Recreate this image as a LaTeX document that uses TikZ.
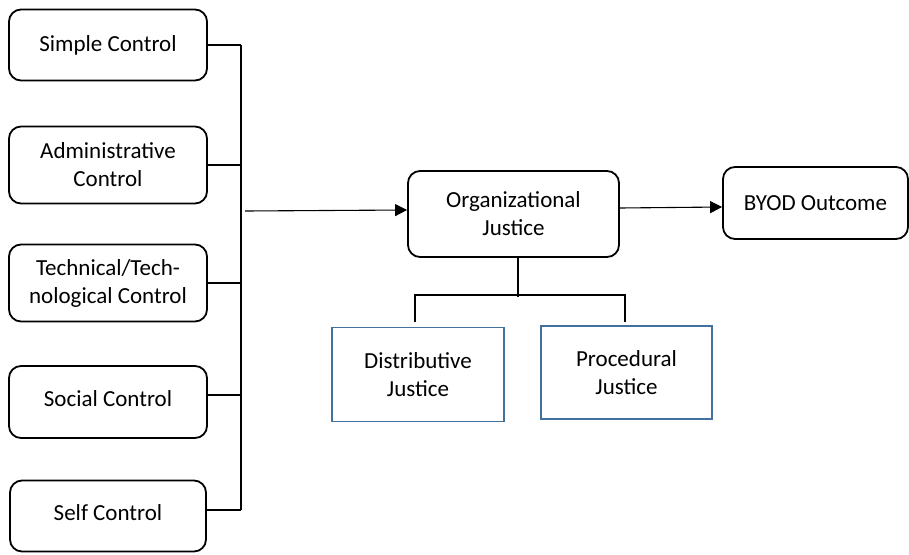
\documentclass[tikz,border=0pt]{standalone}
\usepackage{fontspec}
\setmainfont{Carlito}
\usepackage{xcolor}
\usepackage{tikz}
\usetikzlibrary{arrows.meta}
\definecolor{justblue}{RGB}{65,113,156}
\tikzstyle{control} = [rectangle, rounded corners=12pt, minimum width=198pt, minimum height=74pt, align=center, draw=black, line width=1.8pt, font=\fontsize{23}{28}\selectfont]
\tikzstyle{dimension} = [rectangle, minimum width=172pt, minimum height=94pt, align=center, draw=justblue, line width=1.8pt, font=\fontsize{23}{28}\selectfont]
\tikzstyle{arrow} = [line width=1.1pt, -{Triangle[length=12pt,width=12pt]}]
\tikzstyle{link} = [line width=1.1pt]

\begin{document}
\begin{tikzpicture}[x=1pt, y=-1pt]
        \useasboundingbox (0,0) rectangle (909,554);
        \node (simple) [control, minimum height=71pt] at (108,45) {Simple Control};
        \node (admin) [control, minimum height=77pt] at (108,165) {Administrative\\Control};
        \node (tech) [control, minimum height=77pt] at (108,283) {Technical/Tech-\\nological Control};
        \node (social) [control, minimum height=72pt] at (108,402) {\raisebox{7pt}{Social Control}};
        \node (self) [control, minimum height=71pt, minimum width=196pt] at (108,516) {\raisebox{6pt}{Self Control}};
        \node (orgjust) [control, minimum width=211pt, minimum height=86pt] at (513.5,214) {Organizational\\Justice};
        \node (byod) [control, minimum width=185pt, minimum height=72pt] at (815.5,203) {BYOD Outcome};
        \node (distrib) [dimension] at (418,374.5) {Distributive\\Justice};
        \node (proced) [dimension, minimum width=171pt, minimum height=93pt] at (626.5,372.5) {Procedural\\Justice};
        % bar joining the controls
        \coordinate (bar) at (241,0);
        \coordinate (barout) at (245,211);
        \draw [link] (simple.east) -- (simple.east -| bar);
        \draw [link] (admin.east) -- (admin.east -| bar);
        \draw [link] (tech.east) -- (tech.east -| bar);
        \draw [link] ([yshift=7pt]social.east) -- ([yshift=7pt]social.east -| bar);
        \draw [link] ([yshift=6pt]self.east) -- ([yshift=6pt]self.east -| bar);
        \draw [link] (simple.east -| bar) -- ([yshift=6pt]self.east -| bar);
        \draw [arrow] (barout) -- ([yshift=4pt]orgjust.west);
        \draw [arrow] ([yshift=6pt]orgjust.east) -- ([yshift=-4pt]byod.west);
        % split into the two dimensions
        \coordinate (split) at (518,297);
        \coordinate (dtop) at (415,322);
        \coordinate (ptop) at (625,322);
        \draw [link] (orgjust.south -| split) -- (split);
        \draw [link] (dtop) -- (dtop |- 0,295) -- (ptop |- 0,295) -- (ptop);
    \end{tikzpicture}
\end{document}
